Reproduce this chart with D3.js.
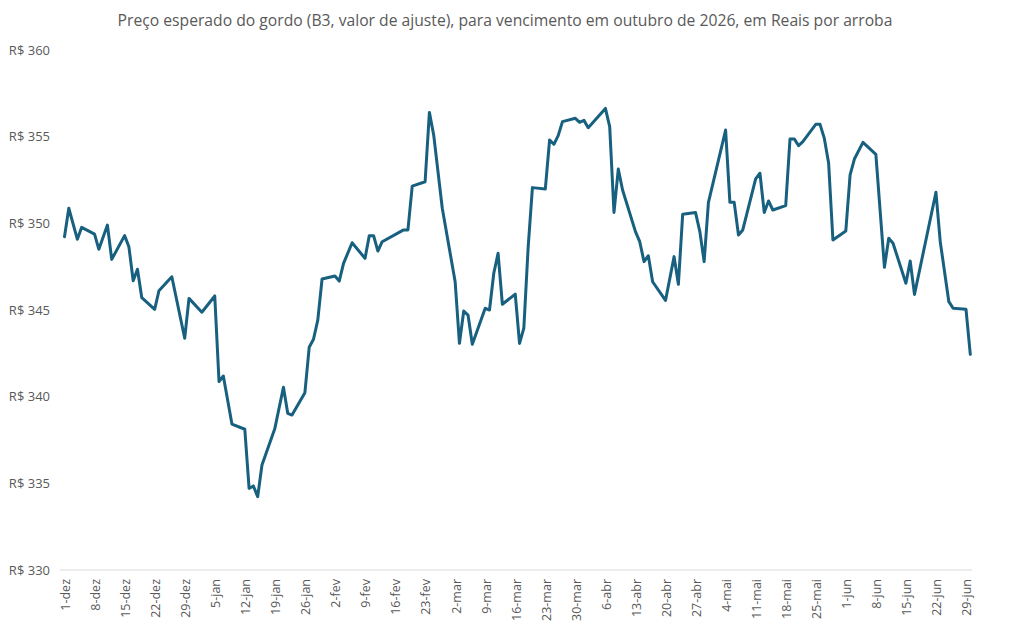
<!DOCTYPE html>
<html>
<head>
<meta charset="utf-8">
<script src="https://cdn.jsdelivr.net/npm/d3@7"></script>
<style>
  body { margin: 0; background: #fff; }
  text { font-family: "Open Sans", "Noto Sans", sans-serif; fill: #595959; }
</style>
</head>
<body>
<svg id="chart" width="1011" height="631"></svg>
<script>
const title = 'Preço esperado do gordo (B3, valor de ajuste), para vencimento em outubro de 2026, em Reais por arroba'

const dates = [
	'2025-12-01','2025-12-02','2025-12-04','2025-12-05','2025-12-08','2025-12-09','2025-12-11','2025-12-12',
	'2025-12-15','2025-12-16','2025-12-17','2025-12-18','2025-12-19','2025-12-22','2025-12-23','2025-12-26',
	'2025-12-29','2025-12-30','2026-01-02','2026-01-05','2026-01-06','2026-01-07','2026-01-09','2026-01-12',
	'2026-01-13','2026-01-14','2026-01-15','2026-01-16','2026-01-19','2026-01-21','2026-01-22','2026-01-23',
	'2026-01-26','2026-01-27','2026-01-28','2026-01-29','2026-01-30','2026-02-02','2026-02-03','2026-02-04',
	'2026-02-06','2026-02-09','2026-02-10','2026-02-11','2026-02-12','2026-02-13','2026-02-18','2026-02-19',
	'2026-02-20','2026-02-23','2026-02-24','2026-02-25','2026-02-27','2026-03-02','2026-03-03','2026-03-04',
	'2026-03-05','2026-03-06','2026-03-09','2026-03-10','2026-03-11','2026-03-12','2026-03-13','2026-03-16',
	'2026-03-17','2026-03-18','2026-03-19','2026-03-20','2026-03-23','2026-03-24','2026-03-25','2026-03-26',
	'2026-03-27','2026-03-30','2026-03-31','2026-04-01','2026-04-02','2026-04-06','2026-04-07','2026-04-08',
	'2026-04-09','2026-04-10','2026-04-13','2026-04-14','2026-04-15','2026-04-16','2026-04-17','2026-04-20',
	'2026-04-22','2026-04-23','2026-04-24','2026-04-27','2026-04-28','2026-04-29','2026-04-30','2026-05-04',
	'2026-05-05','2026-05-06','2026-05-07','2026-05-08','2026-05-11','2026-05-12','2026-05-13','2026-05-14',
	'2026-05-15','2026-05-18','2026-05-19','2026-05-20','2026-05-21','2026-05-22','2026-05-25','2026-05-26',
	'2026-05-27','2026-05-28','2026-05-29','2026-06-01','2026-06-02','2026-06-03','2026-06-05','2026-06-08',
	'2026-06-10','2026-06-11','2026-06-12','2026-06-15','2026-06-16','2026-06-17','2026-06-22','2026-06-23',
	'2026-06-25','2026-06-26','2026-06-29','2026-06-30'
]

const values = [
	349.23, 350.87, 349.08, 349.77, 349.38, 348.50, 349.90, 347.92,
	349.29, 348.65, 346.69, 347.35, 345.71, 345.04, 346.11, 346.92,
	343.37, 345.67, 344.87, 345.81, 340.87, 341.19, 338.42, 338.12,
	334.71, 334.85, 334.23, 336.06, 338.17, 340.54, 339.04, 338.94,
	340.23, 342.85, 343.31, 344.42, 346.79, 346.96, 346.67, 347.69,
	348.88, 347.98, 349.29, 349.29, 348.40, 348.94, 349.62, 349.62,
	352.15, 352.40, 356.40, 355.10, 350.87, 346.63, 343.08, 344.94,
	344.71, 343.02, 345.10, 345.00, 347.12, 348.27, 345.33, 345.92,
	343.07, 343.95, 348.60, 352.06, 351.98, 354.81, 354.56, 355.06,
	355.87, 356.06, 355.83, 355.94, 355.52, 356.63, 355.58, 350.63,
	353.13, 351.92, 349.52, 348.94, 347.79, 348.13, 346.63, 345.55,
	348.08, 346.48, 350.52, 350.62, 349.52, 347.79, 351.21, 355.38,
	351.21, 351.21, 349.33, 349.62, 352.56, 352.89, 350.63, 351.29,
	350.77, 351.02, 354.87, 354.87, 354.48, 354.71, 355.71, 355.71,
	354.90, 353.46, 349.04, 349.56, 352.79, 353.71, 354.67, 353.98,
	347.46, 349.14, 348.85, 346.54, 347.83, 345.90, 351.79, 348.94,
	345.48, 345.10, 345.04, 342.44
]

const xTickLabels = [
	'1-dez','8-dez','15-dez','22-dez','29-dez','5-jan','12-jan','19-jan','26-jan',
	'2-fev','9-fev','16-fev','23-fev','2-mar','9-mar','16-mar','23-mar','30-mar',
	'6-abr','13-abr','20-abr','27-abr','4-mai','11-mai','18-mai','25-mai',
	'1-jun','8-jun','15-jun','22-jun','29-jun'
]
const yTicks = [330, 335, 340, 345, 350, 355, 360]

const monthsPt = ['jan','fev','mar','abr','mai','jun','jul','ago','set','out','nov','dez']
const parseDate = d3.utcParse('%Y-%m-%d')
const tickDate = label => {
	const [day, mon] = label.split('-')
	const m = monthsPt.indexOf(mon)
	return new Date(Date.UTC(m === 11 ? 2025 : 2026, m, +day))
}

const data = dates.map((d, i) => ({ date: parseDate(d), value: values[i] }))

const svg = d3.select('#chart')
const plotLeft = 60, plotRight = 972, plotTop = 50, plotBottom = 570

const x = d3.scaleUtc()
	.domain([parseDate('2025-12-01'), parseDate('2026-06-30')])
	.range([64.5, 970.3])
const y = d3.scaleLinear().domain([330, 360]).range([plotBottom, plotTop])

svg.append('text')
	.attr('x', 505).attr('y', 26)
	.attr('text-anchor', 'middle')
	.style('font-size', '15.7px')
	.text(title)

// y labels, no gridlines
svg.append('g').selectAll('text').data(yTicks)
	.enter().append('text')
	.attr('x', 50)
	.attr('y', d => y(d))
	.attr('dy', '0.35em')
	.attr('text-anchor', 'end')
	.style('font-size', '13px')
	.text(d => `R$ ${d}`)

// x axis line
svg.append('line')
	.attr('x1', plotLeft).attr('x2', plotRight)
	.attr('y1', plotBottom).attr('y2', plotBottom)
	.attr('stroke', '#d9d9d9').attr('stroke-width', 1)

svg.append('g').selectAll('text').data(xTickLabels)
	.enter().append('text')
	.attr('transform', d => `translate(${x(tickDate(d)) + 1},${plotBottom + 9}) rotate(-90)`)
	.attr('dy', '0.35em')
	.attr('text-anchor', 'end')
	.style('font-size', '12.5px')
	.text(d => d)

const line = d3.line().x(d => x(d.date)).y(d => y(d.value))

svg.append('path').datum(data)
	.attr('d', line)
	.attr('fill', 'none')
	.attr('stroke', '#18607f')
	.attr('stroke-width', 3)
	.attr('stroke-linejoin', 'round')
	.attr('stroke-linecap', 'round')
</script>
</body>
</html>
